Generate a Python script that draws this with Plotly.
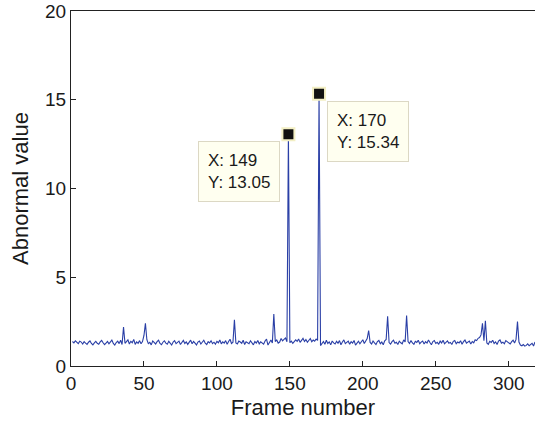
import plotly.graph_objects as go

frames = list(range(1, 319))
abnormal = [
    1.38, 1.30, 1.42, 1.33, 1.26, 1.40, 1.35, 1.24, 1.37, 1.29,   # 1-10
    1.22, 1.34, 1.41, 1.27, 1.19, 1.30, 1.39, 1.28, 1.23, 1.36,   # 11-20
    1.44, 1.31, 1.20, 1.29, 1.38, 1.25, 1.33, 1.46, 1.27, 1.18,   # 21-30
    1.32, 1.40, 1.26, 1.45, 1.21, 2.20, 1.28, 1.35, 1.47, 1.24,   # 31-40
    1.39, 1.31, 1.50, 1.22, 1.36, 1.28, 1.43, 1.25, 1.38, 1.72,   # 41-50
    2.40, 1.48, 1.26, 1.33, 1.19, 1.41, 1.30, 1.24, 1.37, 1.45,   # 51-60
    1.27, 1.20, 1.34, 1.42, 1.29, 1.23, 1.39, 1.31, 1.18, 1.35,   # 61-70
    1.43, 1.26, 1.32, 1.40, 1.21, 1.30, 1.44, 1.27, 1.36, 1.22,   # 71-80
    1.33, 1.46, 1.25, 1.38, 1.29, 1.19, 1.35, 1.41, 1.24, 1.32,   # 81-90
    1.45, 1.28, 1.21, 1.37, 1.30, 1.42, 1.26, 1.34, 1.23, 1.39,   # 91-100
    1.31, 1.47, 1.25, 1.36, 1.29, 1.43, 1.22, 1.38, 1.51, 1.27,   # 101-110
    1.34, 2.60, 1.30, 1.24, 1.40, 1.35, 1.28, 1.45, 1.21, 1.37,   # 111-120
    1.31, 1.26, 1.42, 1.33, 1.19, 1.38, 1.29, 1.44, 1.25, 1.36,   # 121-130
    1.30, 1.23, 1.41, 1.52, 1.18, 1.34, 1.46, 1.30, 2.93, 1.38,   # 131-140
    1.47, 1.29, 1.35, 1.55, 1.42, 1.50, 1.58, 1.36, 13.05, 1.31,  # 141-150
    1.40, 1.28, 1.35, 1.47, 1.39, 1.52, 1.33, 1.45, 1.56, 1.38,   # 151-160
    1.49, 1.34, 1.42, 1.55, 1.37, 1.46, 1.40, 1.52, 1.44, 15.34,  # 161-170
    1.15, 1.30, 1.38, 1.22, 1.45, 1.27, 1.36, 1.19, 1.41, 1.30,   # 171-180
    1.24, 1.39, 1.28, 1.43, 1.20, 1.35, 1.47, 1.26, 1.33, 1.40,   # 181-190
    1.22, 1.37, 1.29, 1.44, 1.18, 1.31, 1.40, 1.25, 1.36, 1.48,   # 191-200
    1.27, 1.39, 1.55, 2.00, 1.33, 1.24, 1.41, 1.30, 1.21, 1.38,   # 201-210
    1.44, 1.26, 1.35, 1.20, 1.42, 1.50, 2.80, 1.32, 1.23, 1.37,   # 211-220
    1.45, 1.28, 1.34, 1.21, 1.40, 1.31, 1.25, 1.47, 1.36, 2.85,   # 221-230
    1.38, 1.27, 1.43, 1.30, 1.22, 1.39, 1.33, 1.45, 1.26, 1.35,   # 231-240
    1.41, 1.24, 1.37, 1.29, 1.46, 1.32, 1.20, 1.38, 1.43, 1.27,   # 241-250
    1.34, 1.22, 1.40, 1.30, 1.45, 1.25, 1.36, 1.41, 1.28, 1.33,   # 251-260
    1.21, 1.39, 1.44, 1.26, 1.35, 1.30, 1.42, 1.23, 1.37, 1.46,   # 261-270
    1.29, 1.34, 1.40, 1.24, 1.38, 1.31, 1.48, 1.43, 1.56, 1.60,   # 271-280
    1.75, 2.40, 1.42, 2.55, 1.30, 1.22, 1.39, 1.33, 1.45, 1.27,   # 281-290
    1.36, 1.21, 1.40, 1.47, 1.29, 1.34, 1.25, 1.43, 1.38, 1.31,   # 291-300
    1.24, 1.37, 1.45, 1.30, 1.50, 2.50, 1.35, 1.18, 1.14, 1.21,   # 301-310
    1.12, 1.16, 1.25, 1.14, 1.19, 1.28, 1.13, 1.35,               # 311-318
]

tip_x = [149, 170]
tip_y = [13.05, 15.34]
x_ticks = [0, 50, 100, 150, 200, 250, 300]
y_ticks = [0, 5, 10, 15, 20]

FONT = "Liberation Sans, Arial, sans-serif"

fig = go.Figure()
fig.add_trace(go.Scatter(
    x=frames, y=abnormal, mode="lines",
    line=dict(color="#2a3fa6", width=1.1),
    showlegend=False, hoverinfo="skip",
))
fig.add_trace(go.Scatter(
    x=tip_x, y=tip_y, mode="markers",
    marker=dict(symbol="square", size=12, color="#111111",
                line=dict(color="#f3efc4", width=2)),
    showlegend=False, hoverinfo="skip",
))

shifts = [(-8, "right"), (8, "left")]
for (tx, ty), (xs, anc) in zip(zip(tip_x, tip_y), shifts):
    fig.add_annotation(
        x=tx, y=ty, xref="x", yref="y",
        text=f"X: {tx}<br>Y: {ty:.2f}",
        showarrow=False, xanchor=anc, yanchor="top",
        xshift=xs, yshift=-7, align="left",
        font=dict(family=FONT, size=17, color="#1a1a1a"),
        bgcolor="#fffff0", bordercolor="#dcd8c4", borderwidth=1, borderpad=9,
    )

axis_common = dict(
    showgrid=False, zeroline=False, showline=True, linecolor="#222222",
    linewidth=1, ticks="inside", ticklen=5, tickcolor="#222222",
    tickfont=dict(family=FONT, size=19, color="#1a1a1a"),
)
fig.update_xaxes(
    range=[0, 318], tickvals=x_ticks, mirror=True,
    title=dict(text="Frame number", font=dict(family=FONT, size=22, color="#1a1a1a"),
               standoff=6),
    **axis_common,
)
fig.update_yaxes(
    range=[0, 20], tickvals=y_ticks, mirror=False,
    title=dict(text="Abnormal value", font=dict(family=FONT, size=22, color="#1a1a1a"),
               standoff=10),
    **axis_common,
)
fig.update_layout(
    width=535, height=429,
    margin=dict(l=71, r=0, t=11, b=63),
    paper_bgcolor="white", plot_bgcolor="white",
)
fig.write_html(
    "out.html",
    config={"displayModeBar": False},
    post_script="document.body.style.margin='0';document.body.style.overflow='hidden';",
)
